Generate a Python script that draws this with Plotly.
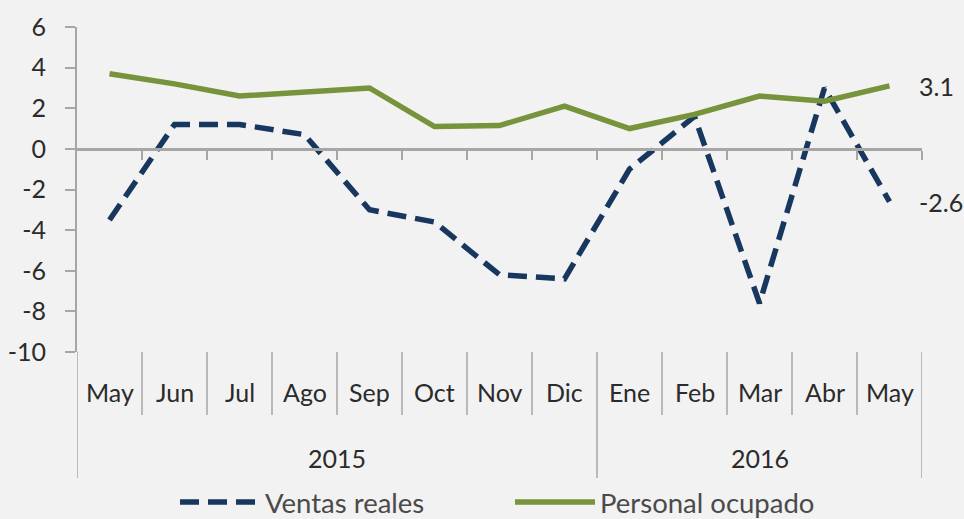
import plotly.graph_objects as go

years = ["2015"] * 8 + ["2016"] * 5
months = ["May", "Jun", "Jul", "Ago", "Sep", "Oct", "Nov", "Dic",
          "Ene", "Feb", "Mar", "Abr", "May"]
ventas = [-3.5, 1.2, 1.2, 0.7, -3.0, -3.6, -6.2, -6.4, -1.0, 1.6, -7.6, 3.0, -2.6]
personal = [3.7, 3.2, 2.6, 2.8, 3.0, 1.1, 1.15, 2.1, 1.0, 1.7, 2.6, 2.35, 3.1]
ytick_vals = [6, 4, 2, 0, -2, -4, -6, -8, -10]

BG = "#f2f2f2"
GRAY = "#a6a6a6"
FONT = "Lato, Open Sans, sans-serif"
TXT = "#2b2b2b"

n = len(months)
xs = list(range(n))

fig = go.Figure()
fig.add_trace(go.Scatter(
    x=xs, y=ventas, name="Ventas reales", mode="lines",
    line=dict(color="#17375e", width=5.5, dash="19px,9px")))
fig.add_trace(go.Scatter(
    x=xs, y=personal, name="Personal ocupado", mode="lines",
    line=dict(color="#77933c", width=5.5)))

# end-of-series value labels
for series in (personal, ventas):
    fig.add_annotation(x=xs[-1], y=series[-1], text=f"{series[-1]:.1f}",
                       showarrow=False, xanchor="left", xshift=27,
                       font=dict(size=25, color=TXT, family=FONT))

# month labels and separators
for i, m in enumerate(months):
    fig.add_annotation(x=i, y=-0.175, xref="x", yref="paper", text=m,
                       showarrow=False, font=dict(size=25, color=TXT, family=FONT))
for i in range(n - 1):
    if years[i] == years[i + 1]:
        fig.add_shape(type="line", xref="x", yref="paper", x0=i + 0.5, x1=i + 0.5,
                      y0=0, y1=-0.194, line=dict(color=GRAY, width=1.5))

# year labels and separators
bounds = [-0.5] + [i + 0.5 for i in range(n - 1) if years[i] != years[i + 1]] + [n - 0.5]
for a, b in zip(bounds[:-1], bounds[1:]):
    fig.add_annotation(x=(a + b) / 2, y=-0.38, xref="x", yref="paper",
                       text=years[int(a + 0.5)], showarrow=False,
                       font=dict(size=25, color=TXT, family=FONT))
for bd in bounds:
    fig.add_shape(type="line", xref="x", yref="paper", x0=bd, x1=bd,
                  y0=0, y1=-0.388, line=dict(color=GRAY, width=1.5))

fig.update_layout(
    width=964, height=519,
    margin=dict(l=77, r=42, t=27, b=167, autoexpand=False),
    paper_bgcolor=BG, plot_bgcolor=BG,
    font=dict(family=FONT, size=25, color=TXT),
    showlegend=True,
    legend=dict(orientation="h", x=0.116, xanchor="left", y=-0.462, yanchor="middle",
                font=dict(size=27.5, color="#4a4a4a", family=FONT), itemwidth=80,
                entrywidth=240, bgcolor="rgba(0,0,0,0)"),
    xaxis=dict(range=[-0.5, n - 0.5], anchor="free", position=10 / 16,
               tickvals=[i + 0.5 for i in range(n)], ticks="outside", ticklen=9,
               tickcolor=GRAY, tickwidth=1.5, showticklabels=False, showgrid=False,
               zeroline=False, showline=True, linecolor=GRAY, linewidth=2.5),
    yaxis=dict(range=[-10, 6], tickvals=ytick_vals,
               ticktext=[str(v) for v in ytick_vals], showgrid=False,
               showline=True, linecolor=GRAY, linewidth=2,
               ticks="outside", ticklen=10, tickcolor=GRAY, tickwidth=1.5,
               ticklabelstandoff=14, zeroline=False,
               tickfont=dict(size=25, color=TXT, family=FONT)),
)

fig.write_html("out.html")
